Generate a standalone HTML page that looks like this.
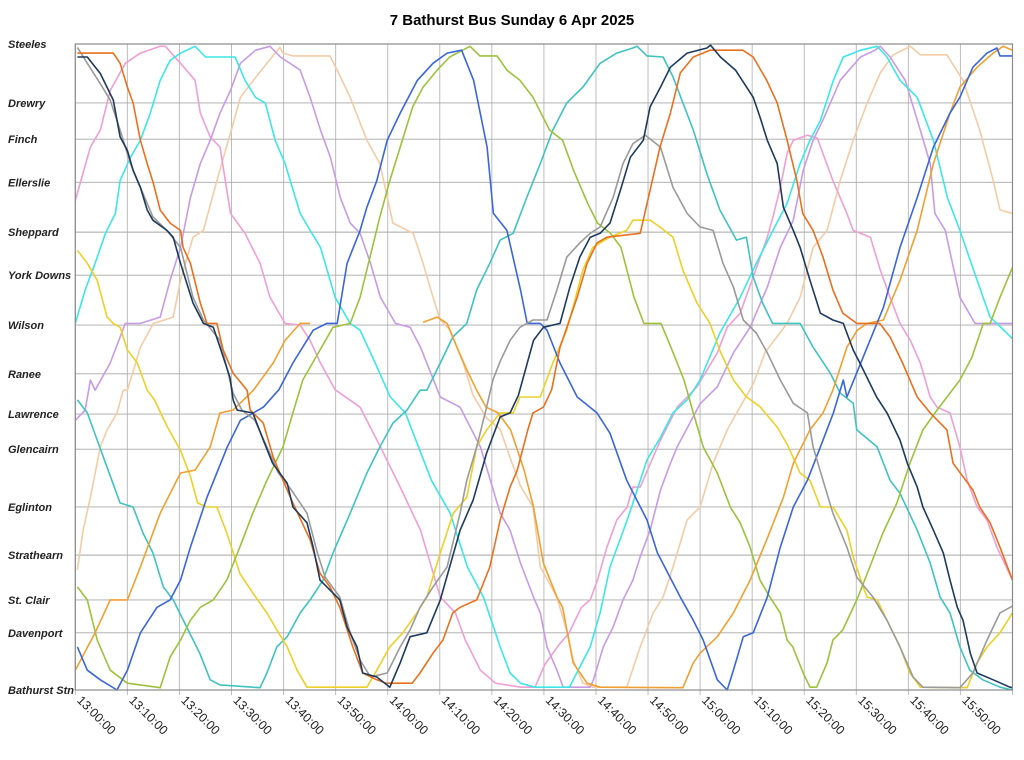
<!DOCTYPE html>
<html><head><meta charset="utf-8"><style>
html,body{margin:0;padding:0;background:#fff;width:1024px;height:760px;overflow:hidden}
svg{display:block}
text{font-family:"Liberation Sans",Arial,sans-serif}
</style></head><body>
<svg id="chart" width="1024" height="760" viewBox="0 0 1024 760" xmlns="http://www.w3.org/2000/svg">
<text x="512" y="25" text-anchor="middle" font-size="15" font-weight="bold">7 Bathurst Bus Sunday 6 Apr 2025</text>
<g id="grid"></g>
<g id="series"></g>
<g id="axes"></g>
</svg>
<script>
const stopNames = ["Steeles","Drewry","Finch","Ellerslie","Sheppard","York Downs","Wilson","Ranee","Lawrence","Glencairn","Eglinton","Strathearn","St. Clair","Davenport","Bathurst Stn"];
const stopKm = [11.4,10.36,9.72,8.96,8.08,7.32,6.44,5.58,4.87,4.25,3.23,2.38,1.59,1.01,0];
const tickMinutes = [0,10,20,30,40,50,60,70,80,90,100,110,120,130,140,150,160,170];
const tickLabels = ["13:00:00","13:10:00","13:20:00","13:30:00","13:40:00","13:50:00","14:00:00","14:10:00","14:20:00","14:30:00","14:40:00","14:50:00","15:00:00","15:10:00","15:20:00","15:30:00","15:40:00","15:50:00"];

const busNavy = [[0.4,11.17],[2.3,11.17],[4.8,10.88],[7.3,10.41],[8.6,9.76],[10,9.52],[11.1,9.17],[12.5,8.87],[13.8,8.47],[14.9,8.29],[17.6,8.11],[18.8,7.99],[20.2,7.53],[22.6,6.83],[24.6,6.47],[26.5,6.4],[27.8,6.05],[29.7,5.52],[30.3,5.12],[31.1,4.94],[34.1,4.89],[36.1,4.41],[37.9,4.0],[40.7,3.65],[41.8,3.23],[44.5,2.95],[45.7,2.52],[47,1.94],[49.5,1.71],[50.8,1.59],[52.2,1.11],[54.1,0.76],[55.2,0.3],[57.9,0.23],[60.4,0.05],[62.4,0.48],[64.3,0.94],[67.5,1.01],[70.1,1.59],[73.9,2.82],[76.4,3.35],[79,4.18],[81.6,4.82],[83.5,4.89],[85.1,5.2],[88,6.17],[89.9,6.4],[93.1,6.47],[95,7.11],[96.9,7.64],[98.9,7.99],[100.8,8.06],[102.7,8.24],[104.7,8.82],[106.6,9.4],[109.1,9.7],[110.4,10.29],[112.4,10.64],[114.3,10.99],[117.5,11.24],[121.3,11.33],[122,11.38],[123.9,11.17],[126.8,10.94],[130.2,10.46],[131.5,10.11],[132.9,9.7],[134.8,9.29],[136,8.52],[137.9,8.11],[139.2,7.81],[141.1,7.23],[143.1,6.65],[145.5,6.53],[147.5,6.47],[149.4,6.0],[150.7,5.77],[153.9,5.17],[155.9,4.89],[158.4,4.41],[159.8,4.0],[161.7,3.58],[162.8,3.23],[164.8,2.82],[166.7,2.42],[168,1.94],[169.4,1.46],[170.5,1.23],[171.9,0.65],[173.2,0.3],[176.3,0.18],[179.5,0.05],[180,0.04]];
const busDarkOrange = [[0.4,11.24],[7.3,11.24],[8.6,11.06],[10,10.64],[11.1,10.36],[12.5,9.7],[13.8,9.29],[15,8.94],[16.3,8.47],[18.2,8.24],[20.2,8.11],[20.7,7.81],[22.1,7.53],[24,6.83],[25.3,6.47],[27.2,6.47],[28.4,6.0],[30.3,5.59],[33,5.29],[33.6,4.94],[36.1,4.71],[38,4.11],[39.9,3.7],[41.8,3.3],[45.1,2.65],[47,2.06],[48.9,1.82],[50.8,1.46],[53.3,0.76],[55.2,0.3],[57.9,0.18],[59.7,0.12],[64.7,0.12],[66.2,0.3],[68.7,0.65],[70.6,0.88],[72.5,1.36],[73.9,1.46],[77.1,1.59],[79.6,2.17],[81.6,3.0],[83.5,3.58],[84.9,3.88],[86.9,4.59],[87.9,4.89],[89.9,4.99],[91.5,5.3],[93.1,6.05],[96.4,6.93],[98.3,7.53],[100.2,7.89],[102.1,7.99],[108.5,8.06],[110.4,8.82],[112.3,9.58],[114.3,10.18],[116.2,10.89],[118.7,11.17],[121.9,11.29],[128.2,11.29],[130.2,11.17],[132.8,10.76],[134.8,10.36],[136.7,9.7],[138.6,8.99],[139.7,8.41],[141.7,8.11],[143.6,7.64],[145.5,7.06],[147.4,6.65],[150.1,6.47],[154.5,6.47],[156.5,6.23],[158.9,5.77],[161.7,5.17],[164.2,4.89],[167.4,4.59],[168.6,4.0],[172.4,3.53],[173.7,3.23],[175.7,2.95],[177.6,2.52],[179.5,2.06],[180,1.94]];
const busGray = [[0.4,11.34],[2.3,11.06],[4.8,10.7],[6.7,10.41],[8.6,9.88],[10.6,9.29],[12.5,8.87],[14.9,8.35],[17.6,8.11],[20.2,7.81],[22.6,6.93],[24.6,6.53],[27.8,6.17],[30.3,5.24],[32,4.94],[34.5,4.76],[36.8,4.29],[39,3.83],[41.5,3.53],[44.5,3.12],[46.5,2.42],[48,1.99],[50.8,1.64],[52.8,1.01],[54.7,0.53],[56.7,0.23],[59.9,0.3],[62.4,0.76],[64.3,1.06],[66.2,1.46],[68.7,1.82],[71.4,2.17],[73.9,3.12],[75.2,3.7],[77.1,4.29],[79,4.99],[80.2,5.47],[81.6,5.8],[83.5,6.17],[85.4,6.4],[87.9,6.53],[90.6,6.53],[92.5,7.06],[94.4,7.64],[96.9,7.89],[98.9,8.06],[100.8,8.17],[103.3,8.69],[105.2,9.29],[107.1,9.64],[109.5,9.79],[112.4,9.58],[114.8,8.87],[117.5,8.41],[120,8.17],[122.5,8.11],[124.4,7.53],[126.4,7.11],[128.3,6.53],[130.8,6.3],[132.9,5.95],[135.4,5.47],[137.9,5.06],[140.6,4.89],[141.7,4.29],[143.6,3.7],[145.5,3.12],[148.2,2.52],[150.1,1.99],[153.2,1.64],[155.9,1.23],[158.4,0.76],[160.9,0.23],[162.8,0.05],[169.9,0.04],[172.4,0.3],[175.1,0.88],[177.6,1.36],[180,1.48]];
const busLightOrangeA = [[0,0.35],[3.8,1.01],[6.7,1.59],[10,1.59],[12.5,2.17],[16.3,3.12],[20.2,3.83],[23,3.88],[25.9,4.29],[27.8,4.89],[30.3,4.94],[34.2,5.29],[38,5.77],[40.3,6.17],[43.2,6.47],[45.1,6.47]];
const busLightOrangeB = [[66.8,6.49],[69.5,6.58],[71.4,6.47],[73.3,6.05],[75.2,5.65],[77.1,5.29],[78.9,4.99],[81.2,4.89],[83.6,4.59],[86.2,3.88],[88,3.23],[89.9,2.24],[92.5,1.64],[93.6,1.46],[95.6,0.48],[98.3,0.12],[100.8,0.05],[116.7,0.04],[118.7,0.48],[120,0.65],[123.3,0.94],[126.4,1.36],[129.6,1.94],[132.8,2.65],[136,3.4],[137.9,4.0],[141.1,4.59],[143.6,4.89],[145.5,5.29],[148.2,6.05],[150.2,6.35],[152.1,6.47],[155.2,6.53],[158.4,7.23],[161.7,8.11],[164.8,9.29],[168,10.18],[169.9,10.64],[173.2,10.99],[176.3,11.24],[178.2,11.36],[180,11.29]];
const busPink = [[0,8.64],[2.9,9.58],[4.8,9.88],[6.7,10.58],[9.6,11.06],[12.5,11.24],[16.3,11.36],[17.3,11.36],[20.2,11.06],[23,10.76],[24,10.18],[25.9,9.76],[27.8,9.58],[29.8,8.41],[32.6,8.06],[35.5,7.53],[37.4,6.93],[40.3,6.47],[43.2,6.44],[45.1,6.17],[47.1,5.77],[49.9,5.3],[54.7,4.99],[58.6,4.29],[62.4,3.58],[66.3,2.82],[70.1,1.64],[73,1.36],[74.9,0.88],[77.8,0.35],[80.7,0.12],[85.5,0.05],[88.3,0.05],[90.2,0.45],[92.9,0.8],[94.8,1.0],[97.2,1.46],[98.9,1.59],[100.3,1.94],[102.1,2.52],[104,3.0],[106,3.23],[107.1,3.58],[108.5,3.58],[112.4,4.41],[115.6,4.99],[119.4,5.35],[123.3,5.95],[125.2,6.4],[127.7,6.65],[130.2,7.29],[132.9,7.99],[134,8.35],[135.4,8.87],[136.7,9.47],[137.9,9.7],[140.6,9.79],[142.5,9.74],[145.5,8.99],[148.2,8.41],[149.4,8.11],[152.7,7.99],[154.6,7.41],[156.5,6.93],[158.4,6.47],[160.4,6.17],[162.3,5.77],[164.2,5.17],[165.5,4.99],[168,4.89],[169.9,4.29],[171.3,3.7],[173.2,3.23],[175.1,3.0],[177,2.52],[180,1.94]];
const busLavender = [[0,4.76],[1.9,4.94],[2.9,5.47],[3.8,5.29],[6.7,5.77],[9.6,6.47],[12.5,6.47],[16.3,6.58],[18.2,7.23],[20.2,7.81],[22.1,8.69],[24,9.29],[25.9,9.7],[27.8,10.18],[29.8,10.58],[31.7,11.06],[34.6,11.29],[37.4,11.36],[39.4,11.17],[43.2,10.94],[45.1,10.46],[47.1,9.88],[49,9.4],[50.9,8.69],[52.8,8.24],[54.7,8.06],[56.7,7.53],[58.6,6.93],[61.5,6.47],[64.3,6.4],[66.3,6.05],[70.1,5.17],[73.9,4.99],[77.8,4.29],[81.6,3.12],[83.5,2.82],[85.5,2.24],[88,1.64],[89.3,1.36],[90.6,0.76],[92.5,0.35],[93.7,0.05],[98.9,0.05],[99.5,0.18],[101.4,0.76],[103.3,1.11],[105.2,1.59],[107.1,1.94],[108.5,2.35],[110.4,2.82],[112.4,3.53],[114.3,4.0],[115.6,4.29],[120,5.05],[123.3,5.35],[126.4,5.95],[129.6,6.4],[132.9,7.11],[135.4,7.81],[137.9,8.29],[139.8,9.17],[141.7,9.7],[143.6,10.06],[146.9,10.76],[150.8,11.17],[153.6,11.29],[154.6,11.36],[156.5,11.17],[159.4,10.76],[162.3,9.88],[164.2,9.29],[165.1,8.41],[167.1,8.11],[169.9,6.93],[172.8,6.47],[180,6.47]];
const busCyan = [[0,6.47],[1.9,7.06],[3.8,7.53],[5.8,8.06],[7.7,8.41],[8.6,8.99],[10.6,9.4],[12.5,9.7],[14.4,10.18],[16.3,10.76],[18.2,11.11],[20.2,11.24],[23,11.36],[25,11.17],[30.7,11.17],[32.6,10.76],[34.6,10.46],[36.5,10.36],[38.4,9.7],[40.3,9.29],[43.2,8.41],[45.1,8.11],[47.1,7.81],[49.9,6.93],[52.8,6.47],[54.7,6.35],[57.6,5.77],[60.5,5.17],[63.4,4.89],[68.4,3.7],[72,3.12],[75.3,2.17],[78.4,1.64],[81.6,0.76],[83.5,0.3],[85.5,0.12],[88.3,0.05],[94.9,0.05],[98.9,0.76],[100.8,1.36],[102.7,2.17],[106,3.0],[107.1,3.3],[109.8,4.06],[112.4,4.46],[114.8,4.89],[117.5,5.12],[120,5.47],[123.8,6.3],[127.7,6.93],[130.8,7.53],[134,8.11],[136.7,8.59],[139.2,9.29],[141.1,9.7],[143.1,10.05],[145.6,10.76],[147.5,11.17],[150.8,11.29],[154,11.36],[155.9,11.17],[158.4,10.76],[161.7,10.46],[164.8,9.7],[167.5,8.69],[169.9,8.11],[173.2,7.23],[175.7,6.58],[177,6.47],[180,6.2]];
const busPeach = [[0.4,2.12],[1.5,2.82],[2.9,3.4],[4.8,4.29],[6.1,4.59],[8,4.89],[9.2,5.29],[10,5.29],[12.5,6.05],[15,6.47],[18.8,6.58],[20.2,7.23],[22.6,7.99],[24.6,8.11],[27.2,8.99],[30.3,9.99],[31.7,10.46],[34.2,10.76],[36.8,11.06],[39.3,11.34],[39.9,11.24],[41.8,11.19],[48.9,11.19],[50.3,10.94],[52.8,10.46],[56,9.7],[58.5,9.29],[61,8.24],[64.9,8.06],[66.8,7.53],[68.7,6.93],[70.1,6.53],[72,6.35],[74.5,5.77],[76.4,5.2],[79,4.8],[81.6,4.6],[83.5,4.1],[85.5,3.6],[87.9,3.23],[89.3,2.17],[92.5,1.64],[94.5,1.01],[95.6,0.53],[97.5,0.12],[99.4,0.05],[105.9,0.05],[108.5,0.76],[111,1.36],[112.9,1.64],[114.8,2.17],[117.5,3.0],[120,3.23],[122.5,4.0],[125.2,4.59],[127.7,5.0],[130.2,5.4],[132.5,5.96],[136.7,6.47],[139.2,6.93],[141.7,7.81],[144.4,8.11],[146.9,8.99],[149.4,9.7],[152.1,10.36],[154.6,10.89],[157.1,11.21],[160.4,11.36],[162.3,11.21],[167.4,11.21],[170.5,10.76],[173.7,9.88],[176.3,8.99],[177.6,8.47],[180,8.41]];
const busYellow = [[0.4,7.76],[2.3,7.53],[4.2,7.23],[6.1,6.58],[7.3,6.47],[8.6,6.4],[10,6.0],[11.9,5.77],[13.8,5.29],[15.2,5.12],[17.7,4.64],[20.2,4.23],[22.1,3.77],[23.5,3.3],[25.3,3.23],[27.2,3.23],[29.1,2.77],[31.6,2.06],[34.1,1.71],[36.8,1.36],[38.7,1.06],[40.7,0.76],[42.6,0.35],[44.5,0.05],[56,0.05],[57.9,0.35],[60.4,0.76],[62.9,1.01],[65.6,1.36],[67.5,1.64],[70.1,2.42],[72.6,3.12],[75.2,3.4],[77.1,4.29],[79,4.59],[81.6,4.89],[84.1,4.89],[85.4,5.17],[89.3,5.17],[91.7,5.77],[94.4,6.35],[97.5,7.41],[99.4,7.81],[102.6,7.99],[105.9,8.11],[107.1,8.29],[110.4,8.29],[112.3,8.17],[114.8,7.99],[116.7,7.41],[119.4,6.83],[121.9,6.47],[123.8,5.99],[126.4,5.47],[128.9,5.17],[131.5,5.0],[134.8,4.64],[136.7,4.34],[139.2,3.83],[141.1,3.7],[143.1,3.23],[145.5,3.23],[148.2,2.82],[149.4,2.35],[151.3,1.82],[152.1,1.64],[154,1.59],[155.9,1.23],[158.4,0.76],[160.3,0.3],[162.3,0.05],[171.3,0.04],[173.2,0.48],[175.1,0.76],[177.6,1.01],[180,1.36]];
const busBlue = [[0.4,0.76],[2.3,0.35],[4.8,0.18],[8,0],[10,0.35],[12.5,1.01],[15.7,1.46],[18.2,1.59],[20.2,1.94],[22.1,2.52],[25.3,3.4],[29.2,4.29],[31.7,4.76],[34.2,4.89],[36.1,4.99],[39.1,5.3],[41.8,5.77],[45.7,6.35],[48.3,6.47],[50.3,6.47],[52.2,7.53],[54.7,8.11],[56,8.52],[57.9,8.99],[59.9,9.7],[62.4,10.18],[65.7,10.76],[68.7,11.06],[71.4,11.24],[74.2,11.29],[76.5,10.76],[79.1,9.58],[80.3,8.41],[82.9,8.11],[85.5,7.06],[86.8,6.47],[89.3,6.47],[90.6,6.35],[93.1,5.77],[96.4,5.17],[100.2,4.89],[102.7,4.53],[105.9,3.7],[109.8,3.0],[111.8,2.42],[116.2,1.64],[118.7,1.23],[120.6,0.88],[123.3,0.18],[125.2,0],[126.4,0.35],[128.3,0.94],[130.2,1.01],[132.9,1.64],[135.4,2.52],[137.9,3.23],[140.6,3.7],[143.1,4.29],[145.6,4.89],[147.5,5.47],[148.2,5.17],[152.1,6.05],[155.2,6.75],[158.4,7.81],[161.7,8.69],[164.8,9.58],[168,10.18],[169.9,10.46],[172.4,10.99],[175.1,11.24],[177,11.33],[177.6,11.19],[180,11.19]];
const busGreen = [[0.4,1.82],[2.3,1.59],[4.2,0.88],[6.7,0.35],[10,0.12],[16.3,0.04],[18.2,0.58],[20.2,0.88],[22.1,1.23],[24,1.46],[26.5,1.59],[29.1,1.94],[31.6,2.52],[34.1,3.12],[36.8,3.7],[39.9,4.29],[41.8,4.89],[43.7,5.47],[47,6.0],[49.5,6.4],[52.8,6.47],[54.7,6.93],[56.6,7.64],[58.5,8.35],[60.4,8.99],[62.4,9.58],[64.8,10.29],[66.8,10.64],[69.5,10.94],[71.9,11.17],[75.8,11.36],[77.7,11.19],[81,11.19],[82.9,10.94],[85.4,10.76],[87.9,10.46],[91.1,9.88],[93.6,9.7],[95.7,9.17],[98.4,8.59],[100.3,8.24],[102.8,8.06],[104.8,7.81],[107.3,6.93],[109.2,6.47],[112.5,6.47],[114.4,6.05],[116.9,5.47],[118.7,4.89],[120.6,4.29],[123.3,3.83],[125.8,3.23],[127.7,2.95],[129.6,2.52],[131.5,1.94],[133.4,1.64],[135.4,1.36],[136.7,0.88],[137.8,0.76],[139.8,0.3],[141.1,0.05],[142.4,0.05],[144.4,0.48],[145.5,0.88],[147.4,1.06],[150.1,1.59],[152.6,2.17],[155.1,2.77],[157.8,3.3],[160.3,4.0],[162.8,4.59],[165.5,4.94],[168,5.24],[169.9,5.47],[172.2,5.87],[174.4,6.47],[175.7,6.47],[177.6,6.93],[180,7.46]];
const busTeal = [[0.4,5.12],[2.3,4.89],[4.2,4.41],[6.1,3.93],[8.6,3.3],[11.1,3.23],[13,2.77],[14.9,2.42],[16.9,1.82],[18.8,1.59],[21.4,1.11],[23.9,0.65],[25.9,0.18],[27.8,0.09],[35.5,0.04],[36.8,0.3],[38.7,0.76],[40.7,0.94],[43.2,1.36],[45.1,1.59],[47.6,1.94],[49.5,2.42],[52.8,3.12],[56,3.83],[58.5,4.29],[61,4.71],[63.7,4.94],[66.2,5.29],[67.5,5.29],[70.1,5.77],[72.5,6.23],[75.2,6.47],[77.1,7.06],[79.6,7.53],[81.6,7.94],[84.1,8.06],[86.7,8.69],[89.3,9.29],[91.7,9.88],[94.4,10.36],[97.5,10.64],[100.8,11.06],[104,11.24],[107.1,11.33],[107.9,11.36],[109.8,11.19],[112.9,11.17],[114.8,10.82],[116.7,10.36],[118.7,9.88],[121.3,9.11],[123.8,8.47],[127,7.94],[128.9,7.99],[130.2,7.29],[132,6.83],[133.9,6.47],[139.2,6.47],[141.7,6.05],[145,5.59],[146.9,5.24],[149.4,5.06],[150.1,4.59],[154,4.29],[156.5,3.7],[158.4,3.47],[161.7,2.82],[164.2,2.24],[166.1,1.64],[168,1.36],[169.9,0.76],[171.8,0.35],[174.3,0.18],[177.6,0.05],[180,0]];

const seriesList = [
  ["bus-peach", busPeach, "#f3cca6"],
  ["bus-pink", busPink, "#ef9fd3"],
  ["bus-lavender", busLavender, "#c79be6"],
  ["bus-cyan", busCyan, "#3de6e6"],
  ["bus-teal", busTeal, "#3fc3c0"],
  ["bus-yellow", busYellow, "#ecd028"],
  ["bus-green", busGreen, "#9cc23c"],
  ["bus-light-orange-a", busLightOrangeA, "#f0a030"],
  ["bus-light-orange-b", busLightOrangeB, "#f0a030"],
  ["bus-blue", busBlue, "#3b66d8"],
  ["bus-gray", busGray, "#9a9a9a"],
  ["bus-dark-orange", busDarkOrange, "#e8701e"],
  ["bus-navy", busNavy, "#1d3a5c"]
];

const NS = "http://www.w3.org/2000/svg";
const X0 = 75.3, X1 = 1012.5, Y0 = 44, Y1 = 690;
const T_MAX = 180, D_MAX = 11.4;
function xScale(m){ return X0 + (m / T_MAX) * (X1 - X0); }
function yScale(d){ return Y1 - (d / D_MAX) * (Y1 - Y0); }
function mk(tag, attrs, parent){ const e = document.createElementNS(NS, tag); for (const k in attrs) e.setAttribute(k, attrs[k]); parent.appendChild(e); return e; }

const grid = document.getElementById('grid');
const axes = document.getElementById('axes');
const seriesG = document.getElementById('series');

tickMinutes.forEach((m, i) => {
  const x = xScale(m);
  const ln = mk('line', {x1:x, x2:x, y1:Y0, y2:Y1 + 5, stroke:'#bdbdbd', 'stroke-width':1}, grid);
  
  
  const t = mk('text', {x:0, y:0, 'font-size':12.5, fill:'#222', transform:'translate(' + (x + 1) + ',' + (Y1 + 11) + ') rotate(45)'}, axes);
  t.textContent = tickLabels[i];
  
  
});
const rl = mk('line', {x1:X1, x2:X1, y1:Y0, y2:Y1 + 5, stroke:'#bdbdbd', 'stroke-width':1}, grid);



stopNames.forEach((n, i) => {
  const y = yScale(stopKm[i]);
  const ln = mk('line', {x1:X0, x2:X1, y1:y, y2:y, stroke:'#a8a8a8', 'stroke-width':0.9}, grid);
  
  
  const t = mk('text', {x:8, y:y + 4, 'font-size':11, 'font-weight':'bold', 'font-style':'italic', fill:'#222'}, axes);
  t.textContent = n;
  
  
});

const frame = mk('rect', {x:X0, y:Y0, width:X1 - X0, height:Y1 - Y0, fill:'none', stroke:'#8a8a8a', 'stroke-width':1.2}, axes);



seriesList.forEach(s => {
  const pts = s[1].map(p => xScale(p[0]).toFixed(1) + ',' + yScale(p[1]).toFixed(1)).join(' ');
  const pl = mk('polyline', {points:pts, fill:'none', stroke:s[2], 'stroke-width':1.6, 'stroke-linejoin':'round'}, seriesG);
  
  
});
</script>
</body></html>
